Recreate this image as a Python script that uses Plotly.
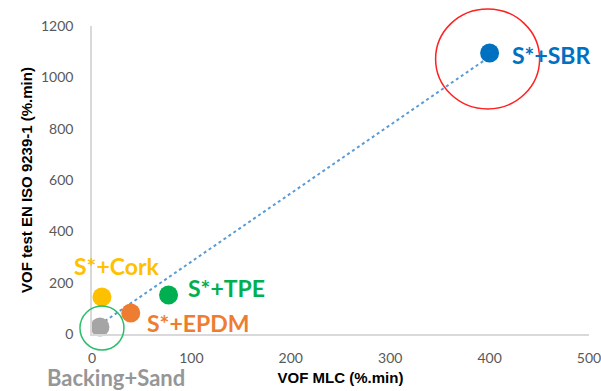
import numpy as np
import plotly.graph_objects as go

# Sample data: VOF measured with MLC vs. EN ISO 9239-1 test
labels = ["Backing+Sand", "S*+Cork", "S*+EPDM", "S*+TPE", "S*+SBR"]
vof_mlc = [8, 10, 39, 77, 400]
vof_iso = [27, 144, 82, 152, 1095]
colors = ["#A5A5A5", "#FFC000", "#ED7D31", "#00B050", "#0070C0"]
label_colors = ["#969696", "#FFC000", "#ED7D31", "#00B050", "#0070C0"]

x_ticks = [0, 100, 200, 300, 400, 500]
y_ticks = [0, 200, 400, 600, 800, 1000, 1200]

W, H = 601, 391
ML, MR, MT, MB = 92, 12, 26, 57
X_RANGE = (0, 500)
Y_RANGE = (0, 1200)
PW, PH = W - ML - MR, H - MT - MB


def to_paper(x, y):
    px = (x - X_RANGE[0]) / (X_RANGE[1] - X_RANGE[0])
    py = (y - Y_RANGE[0]) / (Y_RANGE[1] - Y_RANGE[0])
    return px, py


fig = go.Figure()

# Linear trend line over all samples
slope, intercept = np.polyfit(vof_mlc, vof_iso, 1)
tx = np.array([min(vof_mlc), max(vof_mlc)])
fig.add_trace(go.Scatter(
    x=tx, y=slope * tx + intercept, mode="lines",
    line=dict(color="#5B9BD5", width=2, dash="dot"),
    hoverinfo="skip", showlegend=False,
))

fig.add_trace(go.Scatter(
    x=vof_mlc, y=vof_iso, mode="markers",
    marker=dict(size=19, color=colors, line=dict(width=0)),
    text=labels, showlegend=False, cliponaxis=False,
))

# Point labels: (xshift, yshift, anchor, size) in pixels relative to each point
label_pos = {
    "Backing+Sand": (16, -50, "center", 22),
    "S*+Cork": (15, 31, "center", 23),
    "S*+EPDM": (15, -10, "left", 23),
    "S*+TPE": (18, 7, "left", 23),
    "S*+SBR": (21, -2, "left", 23),
}
for name, x, y, c in zip(labels, vof_mlc, vof_iso, label_colors):
    dx, dy, anchor, fs = label_pos[name]
    fig.add_annotation(
        x=x, y=y, xref="x", yref="y", text=f"<b>{name}</b>", showarrow=False,
        xanchor=anchor, yanchor="middle", xshift=dx, yshift=dy, borderpad=0,
        font=dict(family="Lato, 'Open Sans', sans-serif", size=fs, color=c),
    )


def ring(x, y, dxp, dyp, rx, ry, color):
    # ellipse centred (dxp, dyp) pixels away from a data point, radii in pixels
    cx, cy = to_paper(x, y)
    cx += dxp / PW
    cy -= dyp / PH
    fig.add_shape(
        type="circle", xref="paper", yref="paper",
        x0=cx - rx / PW, x1=cx + rx / PW, y0=cy - ry / PH, y1=cy + ry / PH,
        line=dict(color=color, width=1.5), fillcolor="rgba(0,0,0,0)",
    )


ring(vof_mlc[4], vof_iso[4], -2, 6, 52, 50, "#FF2020")
ring(vof_mlc[0], vof_iso[0], 2, 1, 22, 22, "#2DBE6C")

tick_font = dict(family="Lato, 'Open Sans', sans-serif", size=14, color="#595959")
title_font = dict(family="'Liberation Sans', Arial, sans-serif", size=15, color="#000000")

fig.update_layout(
    width=W, height=H,
    margin=dict(l=ML, r=MR, t=MT, b=MB),
    paper_bgcolor="white", plot_bgcolor="white",
    xaxis=dict(
        range=list(X_RANGE), tickvals=x_ticks, showgrid=False, zeroline=False,
        showline=True, linecolor="#D9D9D9", linewidth=1.5,
        ticks="", ticklabelstandoff=10, tickfont=tick_font,
        ticklabeloverflow="allow",
        title=dict(text="<b>VOF MLC (%.min)</b>", font=title_font, standoff=8),
        automargin=False,
    ),
    yaxis=dict(
        range=list(Y_RANGE), tickvals=y_ticks, showgrid=False, zeroline=False,
        showline=True, linecolor="#D9D9D9", linewidth=1.5,
        ticks="", ticklabelstandoff=14, tickfont=tick_font,
        ticklabeloverflow="allow",
        title=dict(text="<b>VOF test EN ISO 9239-1 (%.min)</b>", font=title_font, standoff=5),
        automargin=False,
    ),
)

fig.write_html("out.html")
